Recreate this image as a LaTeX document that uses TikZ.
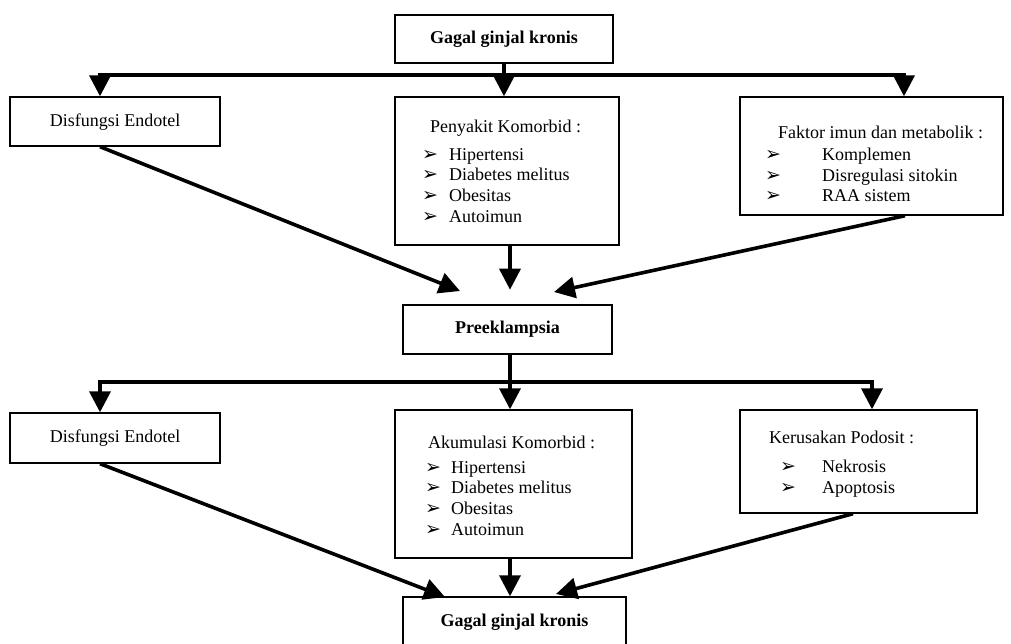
\documentclass[tikz,border=0pt]{standalone}
\usepackage{fontspec}
\setmainfont{Liberation Serif}
\newfontfamily\butirfont{DejaVu Sans}
\usetikzlibrary{arrows.meta,positioning}

\newcommand{\butir}{{\butirfont\fontsize{19}{19}\selectfont ➢}}

\tikzset{
  kotak/.style={draw, line width=1.4pt, inner sep=0pt},
  garis/.style={line width=3.6pt},
  panah/.style={line width=3.6pt, -{Triangle[length=21pt,width=21pt]}},
  judul/.style={font=\fontsize{18}{20}\selectfont\bfseries},
  teks/.style={font=\fontsize{18}{20.6}\selectfont, inner sep=0pt},
}

\begin{document}
\begin{tikzpicture}[x=1pt,y=-1pt]
\clip (0,0) rectangle (1011,643);
\fill[white] (0,0) rectangle (1011,643);

% kotak atas
\node[kotak, judul, minimum width=218pt, minimum height=48pt] (gg1) at (504,39) {Gagal ginjal kronis};
\node[kotak, minimum width=210pt, minimum height=49pt] (disf1) at (115,121.5) {};
\node[teks] (disf1t) at (115,122) {Disfungsi Endotel};
\node[kotak, minimum width=224pt, minimum height=148pt] (komor1) at (507,171) {};
\node[teks, anchor=west] (komor1t) at (430,128) {Penyakit Komorbid :};
\node[teks, anchor=west] (komor1l) at (422,187) {\begin{tabular}{@{}l@{\hspace{11pt}}l@{}}
  \butir & Hipertensi\\
  \butir & Diabetes melitus\\
  \butir & Obesitas\\
  \butir & Autoimun
\end{tabular}};
\node[kotak, minimum width=263pt, minimum height=118pt] (imun1) at (871.5,156) {};
\node[teks, anchor=west] (imun1t) at (778,132) {Faktor imun dan metabolik :};
\node[teks, anchor=west] (imun1l) at (765,177) {\begin{tabular}{@{}l@{\hspace{41pt}}l@{}}
  \butir & Komplemen\\
  \butir & Disregulasi sitokin\\
  \butir & RAA sistem
\end{tabular}};

% tengah
\node[kotak, judul, minimum width=209pt, minimum height=49pt] (pre) at (507.5,329.5) {Preeklampsia};

% kotak bawah
\node[kotak, minimum width=210pt, minimum height=50pt] (disf2) at (115,438) {};
\node[teks] (disf2t) at (115,438.5) {Disfungsi Endotel};
\node[kotak, minimum width=237pt, minimum height=148pt] (akum) at (513.5,484) {};
\node[teks, anchor=west] (akumt) at (428,442) {Akumulasi Komorbid :};
\node[teks, anchor=west] (akuml) at (425,500) {\begin{tabular}{@{}l@{\hspace{10pt}}l@{}}
  \butir & Hipertensi\\
  \butir & Diabetes melitus\\
  \butir & Obesitas\\
  \butir & Autoimun
\end{tabular}};
\node[kotak, minimum width=237pt, minimum height=103pt] (rusak) at (858.5,461.5) {};
\node[teks, anchor=west] (rusakt) at (769,437) {Kerusakan Podosit :};
\node[teks, anchor=west] (rusakl) at (780,479) {\begin{tabular}{@{}l@{\hspace{26pt}}l@{}}
  \butir & Nekrosis\\
  \butir & Apoptosis
\end{tabular}};
\node[kotak, judul, minimum width=223pt, minimum height=54pt, text depth=8pt] (gg2) at (514.5,624) {Gagal ginjal kronis};

% ujung panah
\coordinate (u1) at (460,291);
\coordinate (u2) at (554,292);
\coordinate (u3) at (445,597);
\coordinate (u4) at (556,594);

% percabangan atas
\draw[garis] (gg1.south) -- (gg1.south |- 0,75) coordinate (cab1);
\draw[panah] (cab1) -| (disf1.north -| 100,0);
\draw[panah] (cab1) -| (imun1.north -| 904,0);
\draw[panah] (cab1) -- (komor1.north -| cab1);

% menuju preeklampsia
\draw[panah] (disf1.south -| 100,0) -- (u1);
\draw[panah] (komor1.south -| 510,0) -- ++(0,44);
\draw[panah] (imun1.south -| 905,0) -- (u2);

% percabangan bawah
\draw[garis] (pre.south -| 510,0) -- (510,382) coordinate (cab2);
\draw[panah] (cab2) -| (disf2.north -| 100,0);
\draw[panah] (cab2) -| (rusak.north -| 872,0);
\draw[panah] (cab2) -- (akum.north -| cab2);

% menuju gagal ginjal
\draw[panah] (disf2.south -| 100,0) -- (u3);
\draw[panah] (akum.south -| 510,0) -- (gg2.north -| 510,0);
\draw[panah] (rusak.south -| 853,0) -- (u4);
\end{tikzpicture}
\end{document}
